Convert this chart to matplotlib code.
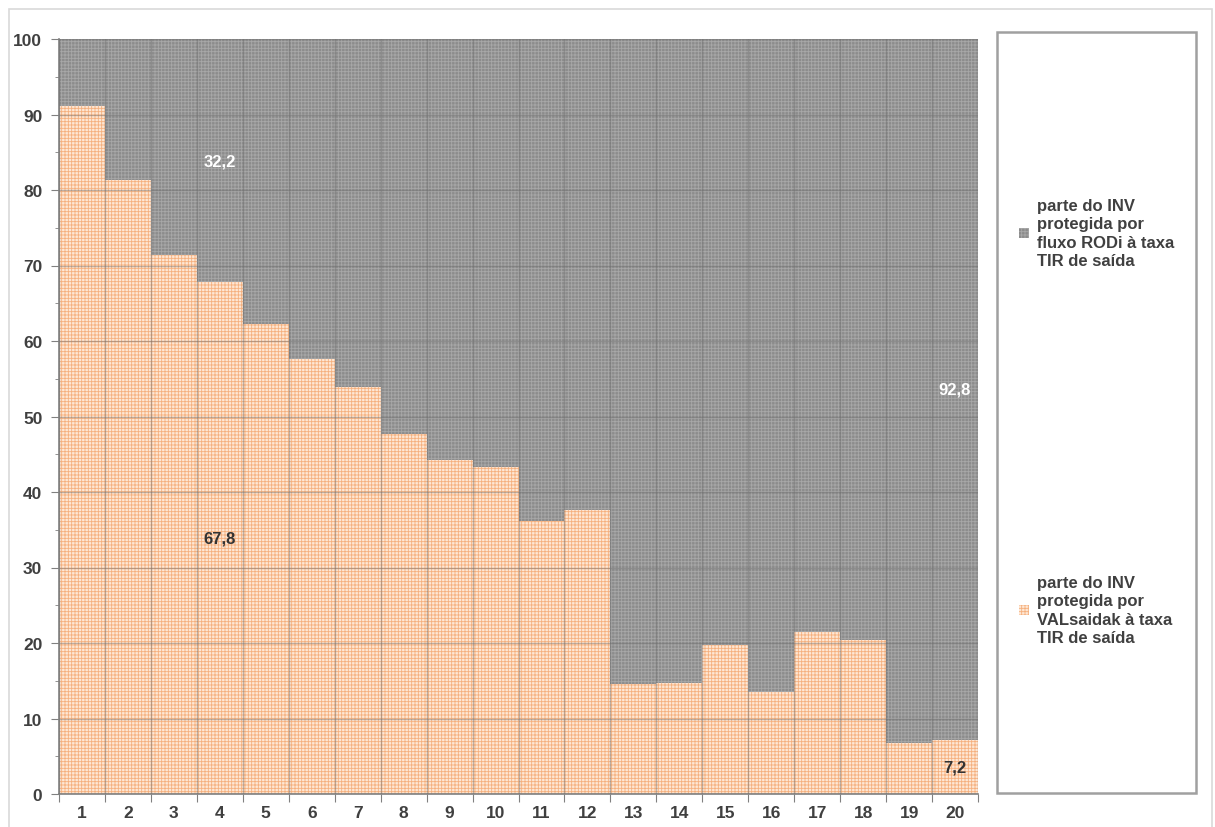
import numpy as np
import matplotlib.pyplot as plt
from matplotlib.patches import Rectangle

# Data
periods = np.arange(1, 21)
val_saida = [91.1, 81.3, 71.4, 67.8, 62.3, 57.6, 53.9, 47.7, 44.2, 43.3,
             36.2, 37.6, 14.6, 14.7, 19.7, 13.5, 21.5, 20.4, 6.8, 7.2]
rodi = [round(100 - v, 1) for v in val_saida]
label_val = 'parte do INV\nprotegida por\nVALsaidak à taxa\nTIR de saída'
label_rodi = 'parte do INV\nprotegida por\nfluxo RODi à taxa\nTIR de saída'
annotated = [4, 20]

plt.rcParams['font.family'] = ['Liberation Sans', 'DejaVu Sans']
plt.rcParams['hatch.linewidth'] = 0.6
txt_col = '#404040'

fig = plt.figure(figsize=(12.15, 8.28), dpi=100)
ax = fig.add_axes([59 / 1215, 1 - 795 / 828, 919 / 1215, 755 / 828])

b1 = ax.bar(periods, val_saida, width=1.0, color='#fee7d4',
            edgecolor='#f5b07e', linewidth=0, hatch='+++++', zorder=1)
b2 = ax.bar(periods, rodi, width=1.0, bottom=val_saida, color='#8c8c8c',
            edgecolor='#a8a8a8', linewidth=0, hatch='+++++', zorder=1)

# value labels
for p in annotated:
    i = p - 1
    ax.text(p, val_saida[i] / 2, f'{val_saida[i]:.1f}'.replace('.', ','),
            ha='center', va='center', fontsize=12, fontweight='bold',
            color='#333333', zorder=4)
    ax.text(p, val_saida[i] + rodi[i] / 2, f'{rodi[i]:.1f}'.replace('.', ','),
            ha='center', va='center', fontsize=12, fontweight='bold',
            color='white', zorder=4)

ax.set_xlim(0.5, 20.5)
ax.set_ylim(0, 100)
ax.set_yticks(np.arange(0, 101, 10))
ax.set_yticks(np.arange(5, 100, 10), minor=True)
ax.set_xticks(np.arange(0.5, 21, 1.0))
ax.set_xticklabels([])
ax.set_xticks(periods, minor=True)
ax.set_xticklabels([str(p) for p in periods], minor=True)

ax.tick_params(axis='y', which='major', length=6, color='#808080',
               labelsize=12.5, labelcolor=txt_col, pad=6)
ax.tick_params(axis='y', which='minor', length=3, color='#808080')
ax.tick_params(axis='x', which='major', length=6, color='#808080')
ax.tick_params(axis='x', which='minor', length=0, labelsize=12.5,
               labelcolor=txt_col, pad=8)
for lab in ax.get_yticklabels() + ax.get_xticklabels(minor=True):
    lab.set_fontweight('bold')

ax.grid(True, axis='both', which='major', color='#6f6f6f', alpha=0.45,
        linewidth=1.0, zorder=3)
ax.set_axisbelow(False)
for s in ['top', 'right']:
    ax.spines[s].set_visible(False)
for s in ['left', 'bottom']:
    ax.spines[s].set_color('#808080')
    ax.spines[s].set_linewidth(1.2)

# outer frame
fig.patches.append(Rectangle((9 / 1215, -0.01), 1203 / 1215, 1.01 - 10 / 828,
                             transform=fig.transFigure, fill=False,
                             edgecolor='#d9d9d9', linewidth=1.2))
# legend box
fig.patches.append(Rectangle((997 / 1215, 1 - 794 / 828), 199 / 1215, 761 / 828,
                             transform=fig.transFigure, fill=False,
                             edgecolor='#a0a0a0', linewidth=1.8))

leg_kw = dict(frameon=False, handlelength=0.6, handleheight=0.6,
              handletextpad=0.5, borderaxespad=0, loc='upper left',
              prop={'size': 12, 'weight': 'bold'})
leg1 = fig.legend([b2], [label_rodi], bbox_to_anchor=(1012 / 1215, 1 - 192 / 828),
                  **leg_kw)
leg2 = fig.legend([b1], [label_val], bbox_to_anchor=(1012 / 1215, 1 - 569 / 828),
                  **leg_kw)
for leg in (leg1, leg2):
    for t in leg.get_texts():
        t.set_color(txt_col)
        t.set_linespacing(1.3)

fig.savefig('out.png', dpi=100)
